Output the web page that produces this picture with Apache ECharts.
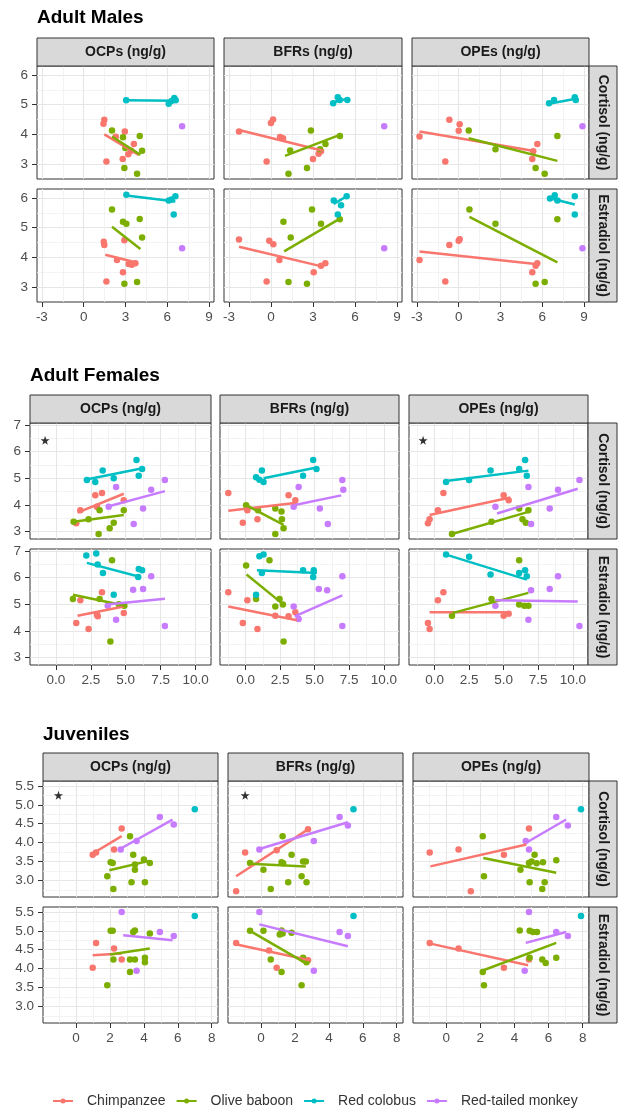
<!DOCTYPE html>
<html><head><meta charset="utf-8">
<script src="https://cdn.jsdelivr.net/npm/echarts@6/dist/echarts.min.js"></script>
<style>html,body{margin:0;padding:0;background:#fff}#c{width:620px;height:1108px}</style>
</head><body><div id="c"></div>
<script>
// ---------- labels ----------
const SPECIES = ['Chimpanzee','Olive baboon','Red colobus','Red-tailed monkey'];
const COLORS = ['#F8766D','#7CAE00','#00BFC4','#C77CFF'];
const COMPOUNDS = ['OCPs (ng/g)','BFRs (ng/g)','OPEs (ng/g)'];
const HORMONES = ['Cortisol (ng/g)','Estradiol (ng/g)'];
const GROUPS = ['Adult Males','Adult Females','Juveniles'];

// ---------- axis ranges and ticks ----------
const AM_XRANGE = [-3.35, 9.35], AM_YRANGE = [2.5, 6.3];
const AM_XTICKS = [-3,0,3,6,9], AM_XMINOR = [-1.5,1.5,4.5,7.5];
const AM_YTICKS = [3,4,5,6], AM_YMINOR = [3.5,4.5,5.5];
const AF_XRANGE = [-1.85, 11.1], AF_YRANGE = [2.72, 7.08];
const AF_XTICKS = [0,2.5,5,7.5,10], AF_XMINOR = [-1.25,1.25,3.75,6.25,8.75];
const AF_YTICKS = [3,4,5,6,7], AF_YMINOR = [3.5,4.5,5.5,6.5];
const JU_XRANGE = [-1.95, 8.37], JU_YRANGE = [2.56, 5.63];
const JU_XTICKS = [0,2,4,6,8], JU_XMINOR = [-1,1,3,5,7];
const JU_YTICKS = [3,3.5,4,4.5,5,5.5], JU_YMINOR = [2.75,3.25,3.75,4.25,4.75,5.25];

// ---------- points: [speciesIndex, x, y] ; lines: [speciesIndex, x1, y1, x2, y2] ----------
// Adult males
const AM_OCP_COR = [[0,1.48,4.49],[0,1.42,4.36],[0,1.63,3.09],[0,2.3,3.92],[0,2.95,4.1],[0,2.8,3.17],[0,3.2,3.33],[0,3.6,3.68],[0,3.4,3.45],
 [1,2.03,4.13],[1,2.82,3.9],[1,2.99,3.54],[1,2.92,2.87],[1,3.83,2.68],[1,4.02,3.95],[1,4.19,3.45],
 [2,3.05,5.15],[2,6.1,5.03],[2,6.3,5.12],[2,6.5,5.22],[2,6.6,5.15],[3,7.06,4.27]];
const AM_OCP_COR_LINES = [[0,1.48,4.0,3.95,3.31],[1,2.03,3.93,4.07,3.31],[2,3.05,5.15,6.6,5.13]];
const AM_OCP_EST = [[0,1.44,4.53],[0,1.48,4.42],[0,1.63,3.19],[0,2.39,3.91],[0,2.92,4.58],[0,2.82,3.5],[0,3.23,3.78],[0,3.71,3.8],[0,3.45,3.75],
 [1,2.03,5.61],[1,2.82,5.2],[1,3.06,5.13],[1,4.02,5.29],[1,4.19,4.67],[1,2.92,3.11],[1,3.83,3.17],
 [2,3.06,6.11],[2,6.1,5.91],[2,6.58,6.06],[2,6.46,5.44],[2,6.3,5.95],[3,7.06,4.31]];
const AM_OCP_EST_LINES = [[0,1.55,4.09,3.78,3.83],[1,2.03,5.03,4.07,4.28],[2,3.06,6.08,6.58,5.88]];
const AM_BFR_COR = [[0,-2.28,4.1],[0,0.0,4.38],[0,0.15,4.5],[0,-0.31,3.09],[0,0.65,3.91],[0,0.86,3.87],[0,3.0,3.17],[0,3.4,3.35],[0,3.57,3.43],
 [1,2.85,4.13],[1,1.37,3.46],[1,1.25,2.68],[1,2.57,2.87],[1,3.89,3.68],[1,4.92,3.95],[1,3.5,3.5],
 [2,4.44,5.05],[2,4.77,5.25],[2,4.91,5.16],[2,5.45,5.16],[3,8.08,4.27]];
const AM_BFR_COR_LINES = [[0,-2.28,4.15,3.7,3.45],[1,1.0,3.28,4.96,3.99],[2,4.44,5.08,5.45,5.2]];
const AM_BFR_EST = [[0,-2.28,4.6],[0,-0.12,4.56],[0,0.17,4.44],[0,0.6,3.91],[0,-0.31,3.19],[0,3.05,3.5],[0,3.57,3.72],[0,3.88,3.8],
 [1,0.89,5.2],[1,1.41,4.67],[1,1.25,3.17],[1,2.57,3.11],[1,2.93,5.61],[1,3.57,5.13],[1,4.91,5.28],
 [2,4.48,5.91],[2,5.4,6.06],[2,4.77,5.44],[2,5.0,5.75],[3,8.08,4.31]];
const AM_BFR_EST_LINES = [[0,-2.28,4.36,3.7,3.69],[1,0.94,4.2,5.01,5.33],[2,4.48,5.8,5.4,6.05]];
const AM_OPE_COR = [[0,-2.81,3.93],[0,-0.67,4.49],[0,0.07,4.34],[0,0.0,4.12],[0,-0.96,3.09],[0,5.64,3.68],[0,5.28,3.17],[0,5.35,3.43],
 [1,0.72,4.13],[1,2.64,3.5],[1,5.52,2.87],[1,6.17,2.68],[1,7.08,3.95],
 [2,6.48,5.05],[2,6.84,5.16],[2,8.33,5.25],[2,8.4,5.16],[3,8.88,4.27]];
const AM_OPE_COR_LINES = [[0,-2.81,4.1,5.52,3.43],[1,0.72,3.87,7.08,3.11],[2,6.48,5.03,8.4,5.2]];
const AM_OPE_EST = [[0,-2.81,3.91],[0,-0.67,4.42],[0,0.0,4.56],[0,0.07,4.61],[0,-0.96,3.19],[0,5.64,3.8],[0,5.28,3.5],[0,5.52,3.72],
 [1,0.77,5.61],[1,2.64,5.13],[1,5.52,3.11],[1,6.17,3.17],[1,7.08,5.28],
 [2,6.55,5.98],[2,6.89,6.09],[2,8.33,6.06],[2,8.33,5.44],[2,7.08,5.91],[3,8.88,4.31]];
const AM_OPE_EST_LINES = [[0,-2.81,4.2,5.52,3.78],[1,0.77,5.36,7.08,3.83],[2,6.48,6.0,8.33,5.78]];

// Adult females
const AF_OCP_COR = [[0,1.75,3.8],[0,1.46,3.31],[0,2.82,4.36],[0,3.3,4.45],[0,2.94,3.93],[0,4.86,4.18],
 [1,1.27,3.37],[1,2.34,3.46],[1,3.06,2.91],[1,3.13,3.8],[1,3.85,3.12],[1,4.14,3.33],[1,4.86,3.8],
 [2,2.22,4.94],[2,2.82,4.86],[2,3.35,5.29],[2,4.14,5.0],[2,5.77,5.69],[2,5.93,5.1],[2,6.17,5.35],
 [3,4.31,4.67],[3,3.78,3.93],[3,5.57,3.28],[3,6.24,3.87],[3,6.82,4.57],[3,7.8,4.94]];
const AF_OCP_COR_LINES = [[0,1.55,3.71,4.86,4.42],[1,1.27,3.37,4.86,3.62],[2,2.18,4.96,6.29,5.39],[3,3.66,3.93,7.8,4.52]];
const AF_OCP_EST = [[0,1.75,5.15],[0,1.46,4.3],[0,2.34,4.07],[0,2.94,4.61],[0,3.3,5.45],[0,3.0,4.55],[0,4.86,4.67],
 [1,1.22,5.2],[1,3.13,5.2],[1,4.02,6.66],[1,3.9,3.6],[1,4.9,4.95],[1,4.5,5.0],
 [2,2.18,6.84],[2,2.89,6.91],[2,2.99,6.5],[2,3.37,6.18],[2,5.93,6.33],[2,6.17,6.28],[2,5.89,6.03],[2,4.14,5.36],
 [3,3.71,4.95],[3,4.31,4.42],[3,5.53,5.55],[3,6.24,5.58],[3,6.82,6.06],[3,7.8,4.19]];
const AF_OCP_EST_LINES = [[0,1.55,4.57,4.86,4.92],[1,1.22,5.36,4.98,4.95],[2,2.22,6.56,6.05,6.03],[3,3.66,4.99,7.8,5.21]];
const AF_BFR_COR = [[0,-1.25,4.45],[0,-0.2,3.33],[0,0.13,3.8],[0,0.86,3.46],[0,3.11,4.36],[0,3.6,4.18],
 [1,0.04,3.99],[1,2.15,3.87],[1,2.63,3.46],[1,2.15,2.91],[1,2.75,3.12],[1,0.9,3.8],[1,2.6,3.75],
 [2,0.76,5.04],[2,1.18,5.29],[2,1.3,4.86],[2,1.0,4.95],[2,4.89,5.69],[2,5.13,5.35],[2,4.16,5.1],
 [3,3.84,4.67],[3,3.48,3.93],[3,7.0,4.94],[3,7.07,4.57],[3,5.37,3.87],[3,5.95,3.28]];
const AF_BFR_COR_LINES = [[0,-1.25,3.78,3.72,4.08],[1,0.04,3.99,2.75,3.25],[2,1.3,5.0,5.13,5.41],[3,3.48,3.99,6.92,4.36]];
const AF_BFR_EST = [[0,-1.25,5.45],[0,-0.2,4.3],[0,0.13,5.15],[0,0.86,4.07],[0,2.15,4.57],[0,3.11,4.55],[0,3.6,4.7],
 [1,0.04,6.46],[1,0.76,5.2],[1,1.73,6.66],[1,2.15,4.92],[1,2.46,5.2],[1,2.7,4.99],[1,2.75,3.6],
 [2,1.0,6.81],[2,1.3,6.87],[2,1.18,6.18],[2,0.76,5.36],[2,4.16,6.28],[2,4.93,6.28],[2,4.89,6.03],
 [3,3.48,4.92],[3,3.84,4.45],[3,5.3,5.58],[3,5.9,5.53],[3,7.0,6.06],[3,7.0,4.19]];
const AF_BFR_EST_LINES = [[0,-1.25,4.92,3.72,4.4],[1,0.07,6.12,2.75,4.99],[2,0.82,6.28,5.16,6.18],[3,3.55,4.55,7.0,5.34]];
const AF_OPE_COR = [[0,-0.48,3.31],[0,-0.36,3.46],[0,0.24,3.8],[0,0.64,4.45],[0,5.0,4.36],[0,5.36,4.18],
 [1,1.26,2.91],[1,4.12,3.37],[1,6.12,3.87],[1,6.36,3.46],[1,6.6,3.33],[1,6.79,3.8],
 [2,0.83,4.86],[2,2.5,4.94],[2,4.05,5.29],[2,6.12,5.35],[2,6.55,5.69],[2,6.67,5.1],
 [3,4.4,3.93],[3,6.79,4.67],[3,6.98,3.28],[3,8.33,3.87],[3,8.93,4.57],[3,10.48,4.94]];
const AF_OPE_COR_LINES = [[0,-0.36,3.62,5.48,4.28],[1,1.26,2.91,6.79,3.74],[2,0.83,4.9,6.79,5.29],[3,4.52,3.68,10.36,4.61]];
const AF_OPE_EST = [[0,-0.48,4.3],[0,-0.36,4.07],[0,0.24,5.15],[0,0.64,5.45],[0,5.0,4.57],[0,5.36,4.65],
 [1,6.12,6.66],[1,1.26,4.57],[1,4.12,5.2],[1,6.12,4.99],[1,6.5,4.95],[1,6.79,4.95],
 [2,0.83,6.87],[2,2.5,6.79],[2,4.05,6.12],[2,6.12,6.18],[2,6.55,6.28],[2,6.67,6.06],
 [3,4.4,4.95],[3,6.98,5.53],[3,6.79,4.42],[3,8.33,5.58],[3,8.93,6.06],[3,10.48,4.19]];
const AF_OPE_EST_LINES = [[0,-0.36,4.7,5.48,4.7],[1,1.26,4.67,6.79,5.43],[2,0.83,6.87,6.67,5.93],[3,4.4,5.15,10.36,5.11]];

// Juveniles
const JU_OCP_COR = [[0,0.98,3.68],[0,1.18,3.74],[0,2.69,4.37],[0,2.24,3.82],
 [1,2.04,3.48],[1,2.16,3.46],[1,1.84,3.11],[1,2.2,2.77],[1,3.18,4.17],[1,3.37,3.68],[1,3.47,3.42],[1,3.47,3.28],[1,3.27,2.95],[1,4.06,2.95],[1,4.0,3.55],[1,4.35,3.46],
 [2,7.0,4.88],[3,2.63,3.82],[3,3.57,4.04],[3,4.94,4.68],[3,5.76,4.48]];
const JU_OCP_COR_LINES = [[0,0.98,3.71,2.69,4.17],[1,1.96,3.27,4.25,3.51],[3,2.59,3.83,5.69,4.61]];
const JU_OCP_EST = [[0,0.98,4.02],[0,1.18,4.68],[0,2.24,4.53],[0,2.69,4.24],
 [1,2.04,5.0],[1,2.16,5.0],[1,2.2,4.24],[1,1.84,3.56],[1,3.18,4.24],[1,3.37,4.97],[1,3.47,5.01],[1,3.47,4.24],[1,3.18,3.91],[1,4.06,4.29],[1,4.06,4.17],[1,4.35,4.93],
 [2,7.0,5.39],[3,2.69,5.5],[3,4.94,4.97],[3,5.76,4.86],[3,3.57,3.94]];
const JU_OCP_EST_LINES = [[0,0.98,4.35,2.69,4.4],[1,2.0,4.37,4.35,4.53],[3,2.78,4.88,5.69,4.75]];
const JU_BFR_COR = [[0,-1.47,2.71],[0,-0.94,3.74],[0,0.92,3.8],[0,2.77,4.35],
 [1,-0.65,3.46],[1,0.14,3.28],[1,1.27,4.17],[1,1.8,3.68],[1,1.21,3.48],[1,1.6,2.95],[1,0.57,2.77],[1,2.48,3.5],[1,2.39,3.11],[1,2.68,2.95],[1,2.64,3.5],[1,1.3,3.45],
 [2,5.45,4.88],[3,-0.1,3.82],[3,3.11,4.04],[3,4.63,4.68],[3,5.12,4.45]];
const JU_BFR_COR_LINES = [[0,-1.47,3.11,2.77,4.35],[1,-0.65,3.44,2.64,3.37],[3,-0.1,3.83,5.12,4.54]];
const JU_BFR_EST = [[0,-1.47,4.68],[0,0.92,4.02],[0,0.47,4.48],[0,2.77,4.22],
 [1,-0.65,5.0],[1,0.14,5.0],[1,0.57,4.24],[1,1.21,5.01],[1,1.27,4.93],[1,1.21,3.91],[1,1.8,4.95],[1,2.39,3.56],[1,2.48,4.29],[1,2.68,4.17],[1,2.5,4.24],[1,1.1,4.9],
 [2,5.45,5.39],[3,-0.1,5.5],[3,3.11,3.94],[3,4.63,4.97],[3,5.12,4.86]];
const JU_BFR_EST_LINES = [[0,-1.43,4.64,2.87,4.22],[1,-0.65,5.0,2.68,4.13],[3,-0.1,5.17,5.12,4.59]];
const JU_OPE_COR = [[0,-0.97,3.74],[0,0.72,3.82],[0,3.38,3.68],[0,1.44,2.71],[0,4.85,4.37],
 [1,2.14,4.17],[1,2.21,3.11],[1,4.35,3.28],[1,4.85,3.46],[1,5.18,3.68],[1,4.89,2.95],[1,5.0,3.5],[1,5.67,3.48],[1,5.77,2.95],[1,5.63,2.77],[1,6.45,3.53],[1,5.3,3.45],
 [2,7.9,4.88],[3,4.66,4.04],[3,4.85,3.82],[3,6.45,4.68],[3,7.13,4.45]];
const JU_OPE_COR_LINES = [[0,-0.93,3.37,4.7,3.95],[1,2.17,3.59,6.45,3.2],[3,4.66,3.99,7.03,4.61]];
const JU_OPE_EST = [[0,-0.97,4.68],[0,0.72,4.53],[0,3.38,4.02],[0,4.85,4.24],
 [1,4.31,5.01],[1,4.89,5.0],[1,5.09,4.97],[1,5.32,4.97],[1,4.89,4.29],[1,5.63,4.24],[1,5.83,4.15],[1,6.45,4.29],[1,2.14,3.91],[1,2.21,3.56],
 [2,7.9,5.39],[3,4.85,5.5],[3,4.6,3.94],[3,6.45,4.97],[3,7.13,4.86]];
const JU_OPE_EST_LINES = [[0,-0.93,4.66,4.8,4.09],[1,2.14,3.95,6.45,4.68],[3,4.66,4.68,7.03,4.97]];

// significance stars: [group, row, col, x, y]
const STARS = [['AF',0,0,-0.77,6.43],['AF',0,2,-0.83,6.43],['JU',0,0,-1.04,5.25],['JU',0,1,-0.94,5.25]];

// ---------- assemble ----------
const FONT = '"Liberation Sans", Arial, Helvetica, sans-serif';
const SCALES = {
  AM:{x:AM_XRANGE,y:AM_YRANGE,xt:AM_XTICKS,xm:AM_XMINOR,yt:AM_YTICKS,ym:AM_YMINOR,xd:0,yd:0},
  AF:{x:AF_XRANGE,y:AF_YRANGE,xt:AF_XTICKS,xm:AF_XMINOR,yt:AF_YTICKS,ym:AF_YMINOR,xd:1,yd:0},
  JU:{x:JU_XRANGE,y:JU_YRANGE,xt:JU_XTICKS,xm:JU_XMINOR,yt:JU_YTICKS,ym:JU_YMINOR,xd:0,yd:1}
};
const PANELS = {
  AM:[[AM_OCP_COR,AM_BFR_COR,AM_OPE_COR],[AM_OCP_EST,AM_BFR_EST,AM_OPE_EST]],
  AF:[[AF_OCP_COR,AF_BFR_COR,AF_OPE_COR],[AF_OCP_EST,AF_BFR_EST,AF_OPE_EST]],
  JU:[[JU_OCP_COR,JU_BFR_COR,JU_OPE_COR],[JU_OCP_EST,JU_BFR_EST,JU_OPE_EST]]
};
const PANEL_LINES = {
  AM:[[AM_OCP_COR_LINES,AM_BFR_COR_LINES,AM_OPE_COR_LINES],[AM_OCP_EST_LINES,AM_BFR_EST_LINES,AM_OPE_EST_LINES]],
  AF:[[AF_OCP_COR_LINES,AF_BFR_COR_LINES,AF_OPE_COR_LINES],[AF_OCP_EST_LINES,AF_BFR_EST_LINES,AF_OPE_EST_LINES]],
  JU:[[JU_OCP_COR_LINES,JU_BFR_COR_LINES,JU_OPE_COR_LINES],[JU_OCP_EST_LINES,JU_BFR_EST_LINES,JU_OPE_EST_LINES]]
};
const LAYOUT = {
  AM:{cols:[[37,214],[224,402],[412,589]], rows:[[66,179],[189,302]], stripTop:38, stripRight:617, title:[37,18]},
  AF:{cols:[[30,211],[220,399],[409,588]], rows:[[423,539],[549,665]], stripTop:395, stripRight:617, title:[30,376]},
  JU:{cols:[[43,218],[228,403],[413,589]], rows:[[781,897],[907,1023]], stripTop:753, stripRight:617, title:[43,735]}
};
const STAR_PATH = 'path://M50,0 L61.8,35.1 L98.1,35.1 L68.8,56.7 L79.4,91 L50,70 L20.6,91 L31.2,56.7 L1.9,35.1 L38.2,35.1 Z';

const grids = [], xAxes = [], yAxes = [], series = [], graphics = [];
let p = 0;
['AM','AF','JU'].forEach((gk, gi) => {
  const L = LAYOUT[gk], S = SCALES[gk];
  graphics.push({type:'text', x:L.title[0], y:L.title[1], z:10,
    style:{text:GROUPS[gi], font:'bold 19px ' + FONT, fill:'#000', align:'left', verticalAlign:'middle'}});
  L.cols.forEach((cc, c) => {
    const h = L.rows[0][0] - L.stripTop;
    graphics.push({type:'rect', z:10, shape:{x:cc[0], y:L.stripTop, width:cc[1]-cc[0], height:h},
      style:{fill:'#D9D9D9', stroke:'#333333', lineWidth:1}});
    graphics.push({type:'text', z:11, x:(cc[0]+cc[1])/2, y:L.stripTop + h/2,
      style:{text:COMPOUNDS[c], font:'bold 14px ' + FONT, fill:'#1A1A1A', align:'center', verticalAlign:'middle'}});
  });
  L.rows.forEach((rr, r) => {
    const x0 = L.cols[2][1], w = L.stripRight - x0;
    graphics.push({type:'rect', z:10, shape:{x:x0, y:rr[0], width:w, height:rr[1]-rr[0]},
      style:{fill:'#D9D9D9', stroke:'#333333', lineWidth:1}});
    graphics.push({type:'text', z:11, x:x0 + w/2, y:(rr[0]+rr[1])/2, rotation:-Math.PI/2,
      style:{text:HORMONES[r], font:'bold 14px ' + FONT, fill:'#1A1A1A', align:'center', verticalAlign:'middle'}});
  });
  for (let r = 0; r < 2; r++) {
    for (let c = 0; c < 3; c++) {
      const cc = L.cols[c], rr = L.rows[r];
      grids.push({left:cc[0], top:rr[0], width:cc[1]-cc[0], height:rr[1]-rr[0], show:true,
        backgroundColor:'#fff', borderColor:'#333333', borderWidth:1});
      // minor axes (gridlines only)
      xAxes.push({type:'value', gridIndex:p, position:'bottom', min:S.x[0], max:S.x[1], axisLine:{show:false, onZero:false},
        axisTick:{show:false, customValues:S.xm}, axisLabel:{show:false, customValues:S.xm},
        splitLine:{show:true, lineStyle:{color:'#F0F0F0', width:0.8}}});
      yAxes.push({type:'value', gridIndex:p, position:'left', min:S.y[0], max:S.y[1], axisLine:{show:false, onZero:false},
        axisTick:{show:false, customValues:S.ym}, axisLabel:{show:false, customValues:S.ym},
        splitLine:{show:true, lineStyle:{color:'#F0F0F0', width:0.8}}});
      // major axes
      xAxes.push({type:'value', gridIndex:p, position:'bottom', min:S.x[0], max:S.x[1], axisLine:{show:false, onZero:false},
        axisTick:{show:r===1, length:5, lineStyle:{color:'#333333'}, customValues:S.xt},
        axisLabel:{show:r===1, customValues:S.xt, formatter:(v)=>Number(v).toFixed(S.xd),
          color:'#4D4D4D', fontSize:13.5, fontFamily:FONT, margin:8},
        splitLine:{show:true, lineStyle:{color:'#E6E6E6', width:1.1}}});
      yAxes.push({type:'value', gridIndex:p, position:'left', min:S.y[0], max:S.y[1], axisLine:{show:false, onZero:false},
        axisTick:{show:c===0, length:5, lineStyle:{color:'#333333'}, customValues:S.yt},
        axisLabel:{show:c===0, customValues:S.yt, formatter:(v)=>Number(v).toFixed(S.yd),
          color:'#4D4D4D', fontSize:13.5, fontFamily:FONT, margin:9},
        splitLine:{show:true, lineStyle:{color:'#E6E6E6', width:1.1}}});
      const ax = 2*p + 1;
      const pts = PANELS[gk][r][c];
      for (let s = 0; s < 4; s++) {
        const d = pts.filter(q => q[0] === s).map(q => [q[1], q[2]]);
        if (!d.length) continue;
        series.push({type:'scatter', name:SPECIES[s], xAxisIndex:ax, yAxisIndex:ax, data:d,
          symbolSize:6.5, itemStyle:{color:COLORS[s], opacity:1}, z:2, silent:true});
      }
      PANEL_LINES[gk][r][c].forEach(l => {
        series.push({type:'line', name:SPECIES[l[0]], xAxisIndex:ax, yAxisIndex:ax,
          data:[[l[1],l[2]],[l[3],l[4]]], showSymbol:false, symbol:'none',
          lineStyle:{color:COLORS[l[0]], width:2.5}, itemStyle:{color:COLORS[l[0]]}, z:3, silent:true});
      });
      STARS.filter(st => st[0]===gk && st[1]===r && st[2]===c).forEach(st => {
        series.push({type:'scatter', name:'sig', xAxisIndex:ax, yAxisIndex:ax, data:[[st[3], st[4]]],
          symbol:STAR_PATH, symbolSize:9, itemStyle:{color:'#000'}, z:4, silent:true});
      });
      p++;
    }
  }
});

const chart = echarts.init(document.getElementById('c'), null, {renderer:'canvas'});
chart.setOption({
  animation:false,
  backgroundColor:'#fff',
  grid:grids, xAxis:xAxes, yAxis:yAxes, series:series,
  graphic:graphics,
  legend:{data:SPECIES, left:48, top:1089, orient:'horizontal', itemWidth:20, itemHeight:5, itemGap:11,
    icon:'path://M0,1.5 L20,1.5 L20,3.5 L0,3.5 Z M7.5,2.5 A2.5,2.5 0 1,1 12.5,2.5 A2.5,2.5 0 1,1 7.5,2.5 Z',
    textStyle:{fontSize:14, color:'#333', fontFamily:FONT, padding:[0,0,0,9]}, selectedMode:false}
});
</script></body></html>
